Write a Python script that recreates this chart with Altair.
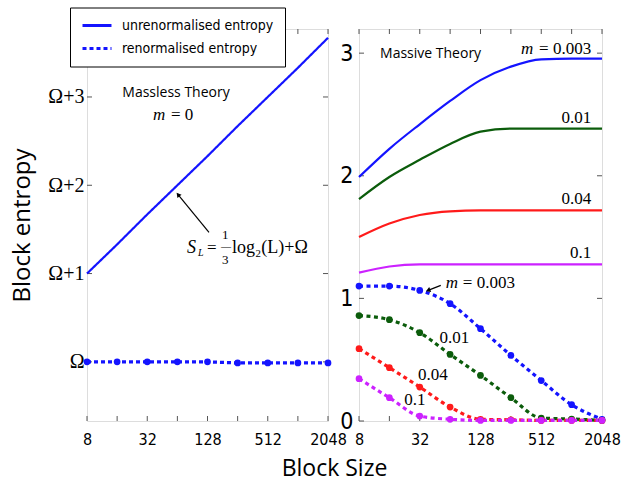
import altair as alt
import pandas as pd

# ---------------- data ----------------
L = [8, 16, 32, 64, 128, 256, 512, 1024, 2048]
x_labels = [8, 32, 128, 512, 2048]
y_ticks = [0, 1, 2, 3]

kinds = ["unrenormalised entropy", "renormalised entropy"]
unren = [1.00, 1.33, 1.67, 2.00, 2.33, 2.67, 3.00, 3.33, 3.67]
ren = [0.0, 0.0, 0.0, 0.0, 0.0, -0.012, -0.012, -0.012, -0.012]

masses = ["0.003", "0.01", "0.04", "0.1"]
mass_colors = ["#1414ff", "#0b5c0b", "#ff1a1a", "#cc22ff"]

solid_003 = [1.99, 2.22, 2.42, 2.61, 2.78, 2.89, 2.95, 2.955, 2.955]
solid_01 = [1.81, 1.99, 2.13, 2.26, 2.36, 2.385, 2.385, 2.385, 2.385]
solid_04 = [1.50, 1.61, 1.68, 1.71, 1.717, 1.717, 1.717, 1.717, 1.717]
solid_1 = [1.21, 1.26, 1.277, 1.277, 1.277, 1.277, 1.277, 1.277, 1.277]

dash_003 = [1.10, 1.10, 1.065, 0.957, 0.753, 0.535, 0.33, 0.133, 0.014]
dash_01 = [0.86, 0.826, 0.72, 0.543, 0.372, 0.19, 0.024, 0.016, 0.005]
dash_04 = [0.59, 0.435, 0.277, 0.114, 0.014, 0.01, 0.005, 0.005, 0.005]
dash_1 = [0.345, 0.19, 0.04, 0.014, 0.005, 0.005, 0.005, 0.005, 0.005]

# ---------------- styling ----------------
BLUE = "#1414ff"
FRAME = "#555555"
NARROW = "Liberation Sans Narrow, DejaVu Sans Condensed, Lato, sans-serif"
SERIF = "Liberation Serif, DejaVu Serif, serif"
SANS = "Open Sans"
W1, W2, H = 241, 243, 392

xscale = alt.Scale(type="log", base=2, domain=[8, 2048], nice=False)
xaxis_common = dict(values=x_labels, format="d", ticks=False, domain=False, grid=False,
                    labelFont=NARROW, labelFontSize=16, labelPadding=10,
                    labelColor="black", labelFlush=False)
xaxis_l = alt.Axis(title="Block Size", titleFont=SANS, titleFontSize=23,
                   titleFontWeight="normal", titleColor="black", titleX=247, titleY=47,
                   titleBaseline="middle", titleAlign="center", **xaxis_common)
xaxis_r = alt.Axis(title=None, **xaxis_common)

yscale_l = alt.Scale(domain=[-0.67, 3.77], nice=False, zero=False)
yaxis_l = alt.Axis(values=y_ticks,
                   labelExpr="datum.value == 0 ? 'Ω' : 'Ω+' + datum.value",
                   ticks=False, domain=False, grid=False, title="Block entropy",
                   titleFont=SANS, titleFontSize=24, titleFontWeight="normal",
                   titleColor="black", titleX=-65, titleBaseline="middle",
                   labelFont=SERIF, labelFontSize=20, labelPadding=3, labelColor="black")

yscale_r = alt.Scale(domain=[0, 3.197], nice=False, zero=False)
yaxis_r = alt.Axis(values=y_ticks, ticks=False, domain=False, grid=False, title=None,
                   labelFont=NARROW, labelFontSize=23, labelPadding=6, labelColor="black")


def frame_ticks(width, xaxis, yscale, yaxis):
    tdf = pd.DataFrame({"L": L})
    ydf = pd.DataFrame({"S": y_ticks})
    X = alt.X("L:Q", scale=xscale, axis=xaxis)
    Y = alt.Y("S:Q", scale=yscale, axis=yaxis)
    bt = alt.Chart(tdf).mark_rule(color=FRAME).encode(x=X, y=alt.value(H), y2=alt.value(H - 5))
    tt = alt.Chart(tdf).mark_rule(color=FRAME).encode(x=X, y=alt.value(0), y2=alt.value(5))
    lt = alt.Chart(ydf).mark_rule(color=FRAME).encode(y=Y, x=alt.value(0), x2=alt.value(5))
    rt = alt.Chart(ydf).mark_rule(color=FRAME).encode(y=Y, x=alt.value(width), x2=alt.value(width - 5))
    return [bt, tt, lt, rt]


def txt(rows, xaxis, yscale, yaxis, **mk):
    df = pd.DataFrame(rows, columns=["L", "S", "t"])
    return alt.Chart(df).mark_text(**mk).encode(
        x=alt.X("L:Q", scale=xscale, axis=xaxis),
        y=alt.Y("S:Q", scale=yscale, axis=yaxis), text="t:N")


def arrow(tail, head, angle, xaxis, yscale, yaxis):
    df = pd.DataFrame([{"L": tail[0], "S": tail[1], "L2": head[0], "S2": head[1]}])
    X = alt.X("L:Q", scale=xscale, axis=xaxis)
    Y = alt.Y("S:Q", scale=yscale, axis=yaxis)
    line = alt.Chart(df).mark_rule(color="black", strokeWidth=1.2).encode(
        x=X, y=Y, x2="L2:Q", y2="S2:Q")
    hdf = pd.DataFrame([{"L": head[0], "S": head[1]}])
    tip = alt.Chart(hdf).mark_point(shape="triangle-up", angle=angle, filled=True,
                                    size=28, color="black", opacity=1).encode(x=X, y=Y)
    return [line, tip]


# ---------------- left panel ----------------
df_unren = pd.DataFrame({"L": L, "S": unren, "kind": kinds[0]})
df_ren = pd.DataFrame({"L": L, "S": ren, "kind": kinds[1]})

legend = alt.Legend(title=None, orient="none", legendX=-17, legendY=-21.5,
                    fillColor="white", strokeColor="black", padding=11,
                    labelFont=NARROW, labelFontSize=14, labelColor="black",
                    symbolType="M-1,0H4.27", symbolSize=121, symbolStrokeWidth=2.8,
                    symbolStrokeColor=BLUE, symbolFillColor="transparent",
                    labelOffset=27, rowPadding=9)
dash_scale = alt.Scale(domain=kinds, range=[[1, 0], [4, 3]])
XL = alt.X("L:Q", scale=xscale, axis=xaxis_l)
YL = alt.Y("S:Q", scale=yscale_l, axis=yaxis_l)

line_unren = alt.Chart(df_unren).mark_line(strokeWidth=2.2, color=BLUE).encode(
    x=XL, y=YL, strokeDash=alt.StrokeDash("kind:N", scale=dash_scale, legend=legend))
line_ren = alt.Chart(df_ren).mark_line(strokeWidth=3.2, color=BLUE).encode(
    x=XL, y=YL, strokeDash=alt.StrokeDash("kind:N", scale=dash_scale, legend=legend))
pts_l = alt.Chart(df_ren).mark_point(filled=True, size=45, color=BLUE, opacity=1).encode(
    x=XL, y=YL)

FX, FY = 80, 1.285
ann_l = [
    txt([[62, 3.04, "Massless Theory"]], xaxis_l, yscale_l, yaxis_l, font=SANS, fontSize=14,
        color="black"),
    txt([[36.5, 2.80, "m"]], xaxis_l, yscale_l, yaxis_l, font=SERIF, fontSize=17,
        fontStyle="italic", align="left", color="black"),
    txt([[36.5, 2.80, "= 0"]], xaxis_l, yscale_l, yaxis_l, font=SERIF, fontSize=17,
        align="left", dx=18, color="black"),
    txt([[FX, FY, "S"]], xaxis_l, yscale_l, yaxis_l, font=SERIF, fontSize=18,
        fontStyle="italic", align="left", color="black"),
    txt([[FX, FY, "L"]], xaxis_l, yscale_l, yaxis_l, font=SERIF, fontSize=10,
        fontStyle="italic", align="left", dx=11, dy=5, color="black"),
    txt([[FX, FY, "="]], xaxis_l, yscale_l, yaxis_l, font=SERIF, fontSize=17, align="left",
        dx=20, color="black"),
    txt([[FX, FY, "1"]], xaxis_l, yscale_l, yaxis_l, font=SERIF, fontSize=13, align="left",
        dx=35, dy=-13, color="black"),
    txt([[FX, FY, "—"]], xaxis_l, yscale_l, yaxis_l, font=SERIF, fontSize=10, align="left",
        dx=34, dy=-1, color="black"),
    txt([[FX, FY, "3"]], xaxis_l, yscale_l, yaxis_l, font=SERIF, fontSize=13, align="left",
        dx=35, dy=12, color="black"),
    txt([[FX, FY, "log₂(L)+Ω"]], xaxis_l, yscale_l, yaxis_l, font=SERIF, fontSize=18,
        align="left", dx=45, color="black"),
]
arr_l = arrow((132.5, 1.466), (65, 1.894), 321, xaxis_l, yscale_l, yaxis_l)

left = alt.layer(
    *frame_ticks(W1, xaxis_l, yscale_l, yaxis_l), line_unren, line_ren, pts_l, *ann_l, *arr_l
).properties(width=W1, height=H)

# ---------------- right panel ----------------
df_solid = pd.DataFrame({
    "L": L * 4,
    "S": solid_003 + solid_01 + solid_04 + solid_1,
    "m": sum([[m] * len(L) for m in masses], []),
})
df_dash = pd.DataFrame({
    "L": L * 4,
    "S": dash_003 + dash_01 + dash_04 + dash_1,
    "m": sum([[m] * len(L) for m in masses], []),
})
cscale = alt.Scale(domain=masses, range=mass_colors)
XR = alt.X("L:Q", scale=xscale, axis=xaxis_r)
YR = alt.Y("S:Q", scale=yscale_r, axis=yaxis_r)

solid_r = alt.Chart(df_solid).mark_line(strokeWidth=2.2, interpolate="monotone").encode(
    x=XR, y=YR, color=alt.Color("m:N", scale=cscale, legend=None), detail="m:N")
dash_r = alt.Chart(df_dash).mark_line(strokeWidth=3.2, strokeDash=[4, 3.5],
                                      interpolate="monotone").encode(
    x=XR, y=YR, color=alt.Color("m:N", scale=cscale, legend=None), detail="m:N")
pts_r = alt.Chart(df_dash).mark_point(filled=True, size=45, opacity=1).encode(
    x=XR, y=YR, color=alt.Color("m:N", scale=cscale, legend=None))

RL = 1600
ann_r = [
    txt([[41, 2.99, "Massive Theory"]], xaxis_r, yscale_r, yaxis_r, font=SANS, fontSize=14,
        color="black"),
    txt([[RL, 3.03, "= 0.003"]], xaxis_r, yscale_r, yaxis_r, font=SERIF, fontSize=17,
        align="right", color="black"),
    txt([[RL, 3.03, "m"]], xaxis_r, yscale_r, yaxis_r, font=SERIF, fontSize=17,
        fontStyle="italic", align="right", dx=-58, color="black"),
    txt([[RL, 2.47, "0.01"], [RL, 1.81, "0.04"], [RL, 1.37, "0.1"]], xaxis_r, yscale_r,
        yaxis_r, font=SERIF, fontSize=17, align="right", color="black"),
    txt([[58, 1.122, "m"]], xaxis_r, yscale_r, yaxis_r, font=SERIF, fontSize=17,
        fontStyle="italic", align="left", color="black"),
    txt([[58, 1.122, "= 0.003"]], xaxis_r, yscale_r, yaxis_r, font=SERIF, fontSize=17,
        align="left", dx=17, color="black"),
    txt([[70.4, 0.674, "0.01"], [43.1, 0.372, "0.04"], [28.6, 0.169, "0.1"]], xaxis_r,
        yscale_r, yaxis_r, font=SERIF, fontSize=17, color="black"),
]
arr_r = arrow((51.7, 1.106), (38.7, 1.065), 248, xaxis_r, yscale_r, yaxis_r)

right = alt.layer(
    *frame_ticks(W2, xaxis_r, yscale_r, yaxis_r), solid_r, dash_r, pts_r, *ann_r, *arr_r
).properties(width=W2, height=H)

chart = alt.hconcat(
    left, right, spacing=31, bounds="flush",
    padding={"left": 9, "top": 7, "right": 0, "bottom": 0},
).configure_view(stroke=FRAME, strokeWidth=1).configure(background="white")

chart.save("out.html", embed_options={"renderer": "svg", "actions": False})
